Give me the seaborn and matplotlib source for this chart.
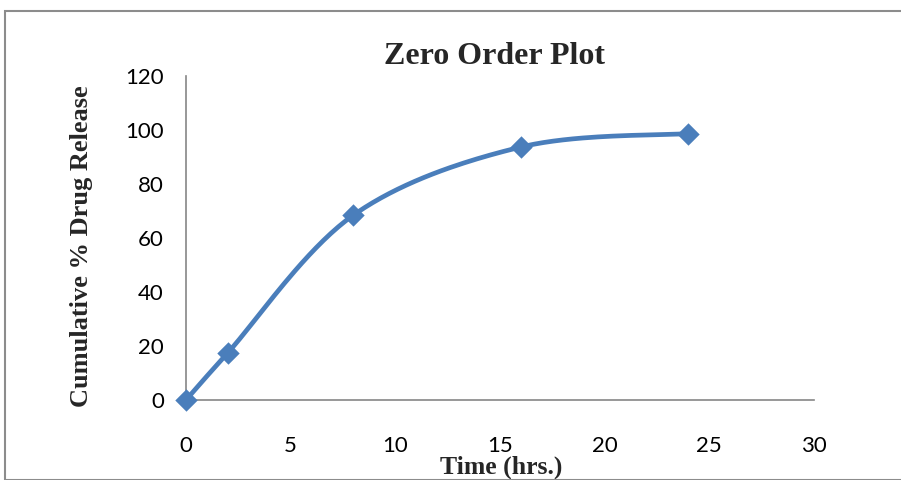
import numpy as np
import pandas as pd
import matplotlib
matplotlib.use("Agg")
import matplotlib.pyplot as plt
from matplotlib.patches import Rectangle
import seaborn as sns

# Release data
time_hrs = [0, 2, 8, 16, 24]
cum_release = [0, 17.5, 68.5, 93.7, 98.7]
x_ticks = [0, 5, 10, 15, 20, 25, 30]
y_ticks = [0, 20, 40, 60, 80, 100, 120]

LINE_COLOR = "#4A7EBB"


def smooth_curve(xs, ys, n=40):
    """Catmull-Rom spline through the points (Excel-style smoothed line)."""
    px = np.asarray(xs, float)
    py = np.asarray(ys, float)
    px_ext = np.concatenate([[px[0]], px, [px[-1]]])
    py_ext = np.concatenate([[py[0]], py, [py[-1]]])
    out_x, out_y = [], []
    for i in range(1, len(px_ext) - 2):
        p0 = np.array([px_ext[i - 1], py_ext[i - 1]])
        p1 = np.array([px_ext[i], py_ext[i]])
        p2 = np.array([px_ext[i + 1], py_ext[i + 1]])
        p3 = np.array([px_ext[i + 2], py_ext[i + 2]])
        m1 = (p2 - p0) / 2
        m2 = (p3 - p1) / 2
        t = np.linspace(0, 1, n)[:, None]
        h00 = 2 * t**3 - 3 * t**2 + 1
        h10 = t**3 - 2 * t**2 + t
        h01 = -2 * t**3 + 3 * t**2
        h11 = t**3 - t**2
        seg = h00 * p1 + h10 * m1 + h01 * p2 + h11 * m2
        out_x.extend(seg[:, 0])
        out_y.extend(seg[:, 1])
    return np.array(out_x), np.array(out_y)


sns.set_theme(style="white")
plt.rcParams["font.family"] = ["Lato", "DejaVu Sans"]

fig = plt.figure(figsize=(9.01, 4.80), dpi=100)
ax = fig.add_axes([186 / 901, 80 / 480, (814 - 186) / 901, (400 - 76) / 480])

sx, sy = smooth_curve(time_hrs, cum_release)
curve = pd.DataFrame({"t": sx, "r": sy})
pts = pd.DataFrame({"t": time_hrs, "r": cum_release})

sns.lineplot(data=curve, x="t", y="r", ax=ax, color=LINE_COLOR, lw=3.4,
             sort=False, estimator=None, zorder=2)
sns.scatterplot(data=pts, x="t", y="r", ax=ax, color=LINE_COLOR, marker="D",
                s=130, edgecolor=LINE_COLOR, linewidth=0, zorder=3, clip_on=False)

ax.set_xlim(0, 30)
ax.set_ylim(0, 120)
ax.set_xticks(x_ticks)
ax.set_yticks(y_ticks)
ax.tick_params(axis="both", which="both", direction="out", length=6, width=1.2,
               color="#868686", labelsize=16, labelcolor="black")
ax.tick_params(axis="x", pad=20)
ax.tick_params(axis="y", pad=10)

for side in ("top", "right"):
    ax.spines[side].set_visible(False)
for side in ("left", "bottom"):
    ax.spines[side].set_color("#868686")
    ax.spines[side].set_linewidth(1.2)

serif = ["Liberation Serif", "DejaVu Serif"]
ax.set_xlabel("Time (hrs.)", fontsize=18.5, fontweight="bold", family=serif, va="center")
ax.xaxis.set_label_coords((501.5 - 186) / 628, (400 - 467) / 324)
ax.set_ylabel("Cumulative % Drug Release", fontsize=19, fontweight="bold",
              family=serif, va="center")
ax.yaxis.set_label_coords((82 - 186) / 628, (400 - 246) / 324)
fig.text(494 / 901, 1 - 57 / 480, "Zero Order Plot", ha="center", va="center",
         fontsize=23, fontweight="bold", family=serif)

fig.patches.append(Rectangle((5 / 901, 0), 1.0, 1 - 11 / 480, transform=fig.transFigure,
                             fill=False, edgecolor="#8c8c8c", linewidth=1.5))

fig.savefig("out.png", dpi=100)
